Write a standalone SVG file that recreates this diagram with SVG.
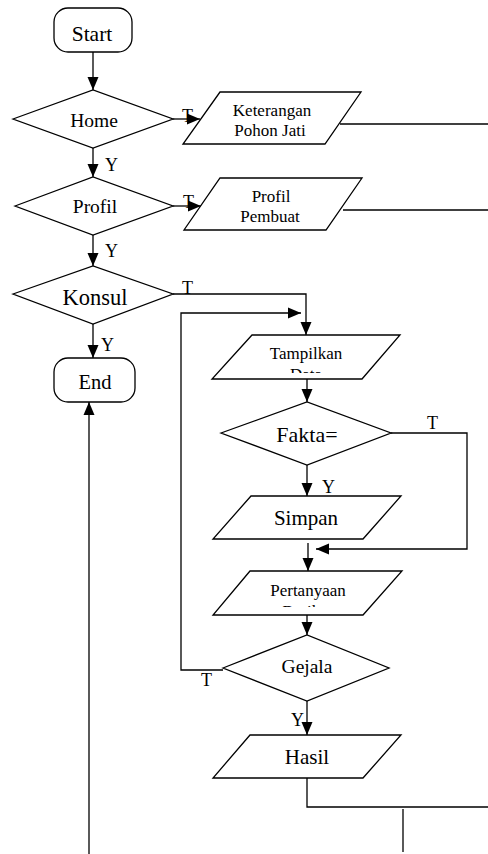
<svg xmlns="http://www.w3.org/2000/svg" width="488" height="854" viewBox="0 0 488 854" font-family="'Liberation Serif', 'Times New Roman', Times, serif">
<style>
.s{fill:#fff;stroke:#000;stroke-width:1.3}
.c{fill:none;stroke:#000;stroke-width:1.3}
.a{marker-end:url(#ah)}
text{font-family:'Liberation Serif','Times New Roman',Times,serif;fill:#000;text-anchor:middle}
.lb{text-anchor:start;font-size:18px}
</style>
<defs>
<marker id="ah" markerUnits="userSpaceOnUse" markerWidth="13" markerHeight="13" viewBox="0 0 13 13" refX="13" refY="6.5" orient="auto">
<path d="M0,1 L13,6.5 L0,12 Z" fill="#000"/>
</marker>
<clipPath id="clipT"><rect x="200" y="330" width="210" height="43"/></clipPath>
<clipPath id="clipP"><rect x="200" y="566" width="210" height="41"/></clipPath>
</defs>
<g id="connectors">
<path class="c a" d="M93,52 V90"/>
<path class="c a" d="M173,119 H200"/>
<path class="c a" d="M93,148 V177"/>
<path class="c a" d="M173,206 H201"/>
<path class="c a" d="M93,235 V266"/>
<path class="c a" d="M93,324 V358"/>
<path class="c a" d="M173,294 H306 V335"/>
<path class="c a" d="M223,670 H181 V313 H301"/>
<path class="c a" d="M307,379 V402"/>
<path class="c a" d="M391,433 H467 V549 H316"/>
<path class="c a" d="M307,465 V496"/>
<path class="c a" d="M308,543 V571"/>
<path class="c a" d="M307,615 V635"/>
<path class="c a" d="M307,701 V735"/>
<path class="c" d="M307,778 V807 H488"/>
<path class="c" d="M403,809 V852"/>
<path class="c a" d="M89,854 V402"/>
<path class="c" d="M340,124 H488"/>
<path class="c" d="M343,210 H488"/>
<text class="lb" x="182" y="122">T</text>
<text class="lb" x="105" y="171">Y</text>
<text class="lb" x="183" y="208">T</text>
<text class="lb" x="105" y="257">Y</text>
<text class="lb" x="182" y="294">T</text>
<text class="lb" x="101" y="351">Y</text>
<text class="lb" x="427" y="429">T</text>
<text class="lb" x="322" y="493">Y</text>
<text class="lb" x="201" y="686">T</text>
<text class="lb" x="291" y="726">Y</text>
</g>
<g id="start"><rect class="s" x="54" y="8" width="78" height="44" rx="14"/><text x="92" y="41" font-size="21.5">Start</text></g>
<g id="home"><polygon class="s" points="13,119 93,90 173,119 93,148"/><text x="94" y="127" font-size="19.5">Home</text></g>
<g id="keterangan"><polygon class="s" points="220,92 361,92 325,144 183,144"/><text x="272" y="116" font-size="17">Keterangan</text><text x="270" y="136" font-size="17">Pohon Jati</text></g>
<g id="profil"><polygon class="s" points="15,206 93,177 173,206 93,235"/><text x="95" y="213" font-size="19.5">Profil</text></g>
<g id="profil-pembuat"><polygon class="s" points="220,178 362,178 326,230 184,230"/><text x="271" y="202" font-size="17">Profil</text><text x="270" y="222" font-size="17">Pembuat</text></g>
<g id="konsul"><polygon class="s" points="13,294 93,266 173,294 93,324"/><text x="95" y="305" font-size="22.5">Konsul</text></g>
<g id="end"><rect class="s" x="54" y="358" width="81" height="44" rx="14"/><text x="95" y="389" font-size="20.5">End</text></g>
<g id="tampilkan"><polygon class="s" points="252,335 400,335 362,379 212,379"/><text x="306" y="359" font-size="17">Tampilkan</text><text x="306" y="380" font-size="17" clip-path="url(#clipT)">Data</text></g>
<g id="fakta"><polygon class="s" points="221,433 307,402 391,433 307,465"/><text x="307" y="442" font-size="22">Fakta=</text></g>
<g id="simpan"><polygon class="s" points="251,496 401,496 363,539 213,539"/><text x="306" y="525" font-size="21">Simpan</text></g>
<g id="pertanyaan"><polygon class="s" points="250,571 402,571 363,615 213,615"/><text x="308" y="596" font-size="17">Pertanyaan</text><text x="308" y="617" font-size="17" clip-path="url(#clipP)">Berikut</text></g>
<g id="gejala"><polygon class="s" points="223,668 307,635 389,668 307,701"/><text x="307" y="673" font-size="19.5">Gejala</text></g>
<g id="hasil"><polygon class="s" points="250,735 401,735 363,778 213,778"/><text x="307" y="764" font-size="21">Hasil</text></g>
</svg>
